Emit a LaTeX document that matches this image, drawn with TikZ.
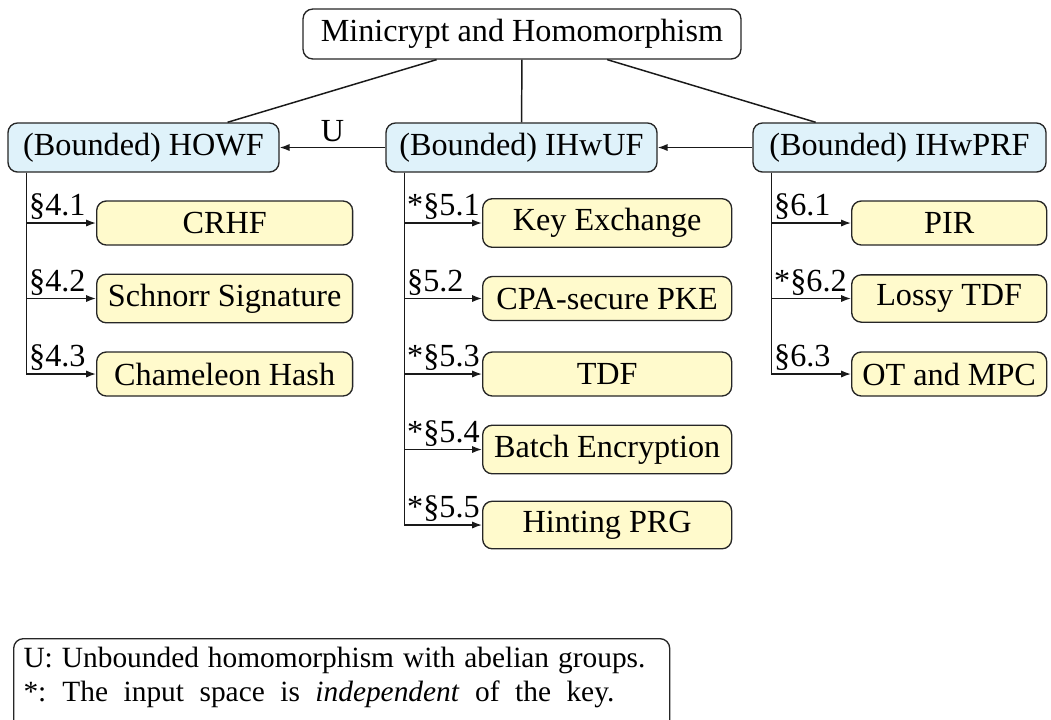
\documentclass[tikz,border=0pt]{standalone}
\usepackage{fontspec}
\setmainfont{Liberation Serif}
\usetikzlibrary{arrows.meta,calc}
\definecolor{boxblue}{RGB}{223,242,250}
\definecolor{boxyellow}{RGB}{255,250,204}
\begin{document}
\begin{tikzpicture}[x=0.3727pt,y=-0.3727pt,
  every node/.style={font=\fontsize{12}{14}\selectfont},
  base/.style={draw=black!85, line width=0.5pt, rounded corners=3.6pt, inner xsep=3pt, inner ysep=3.6pt},
  topbox/.style={base, fill=white, minimum width=163.2pt, minimum height=18.6pt},
  mainbox/.style={base, fill=boxblue, minimum height=18.3pt},
  childbox/.style={base, fill=boxyellow, minimum height=16.4pt, anchor=west},
  link/.style={line width=0.55pt, draw=black!90},
  arr/.style={link, -{Latex[length=3.7pt,width=2.7pt]}},
  sec/.style={anchor=south west, inner xsep=0.8pt, inner ysep=1pt, pos=0.5},
  legtext/.style={anchor=base west, inner sep=0pt, font=\fontsize{10.95}{13}\selectfont},
]
\useasboundingbox (0,0) rectangle (1051,719);
\clip (0,0) rectangle (1051,719);

\node[topbox] (top) at (522,34) {Minicrypt and Homomorphism};
\node[mainbox, minimum width=101pt] (howf) at (143.5,147.5) {(Bounded) HOWF};
\node[mainbox, minimum width=101pt] (ihwuf) at (521.5,147.5) {(Bounded) IHwUF};
\node[mainbox, minimum width=109.2pt] (ihwprf) at (899.5,147.5) {(Bounded) IHwPRF};

\draw[link] (top) -- (howf);
\draw[link] (top) -- (ihwuf);
\draw[link] (top) -- (ihwprf);
\draw[arr] (ihwuf) -- node[above, inner sep=2pt] (ulabel) {U} (howf);
\draw[arr] (ihwprf) -- (ihwuf);

% left column
\node[childbox, minimum width=95.4pt] (crhf) at (96,223) {CRHF};
\node[childbox, minimum width=95.4pt] (schnorr) at (96,298.5) {Schnorr Signature};
\node[childbox, minimum width=95.4pt] (cham) at (96,374) {Chameleon Hash};
\coordinate (lv) at ([xshift=7.08pt]howf.south west);
\draw[arr] (lv) |- node[sec] {§4.1} (crhf.west);
\draw[arr] (lv) |- node[sec] {§4.2} (schnorr.west);
\draw[arr] (lv) |- node[sec] {§4.3} (cham.west);

% middle column
\node[childbox, minimum width=92.8pt] (kex) at (482,223) {Key Exchange};
\node[childbox, minimum width=92.8pt] (pke) at (482,298.5) {CPA-secure PKE};
\node[childbox, minimum width=92.8pt] (tdf) at (482,374) {TDF};
\node[childbox, minimum width=92.8pt] (batch) at (482,449.5) {Batch Encryption};
\node[childbox, minimum width=92.8pt] (hprg) at (482,525) {Hinting PRG};
\coordinate (mv) at ([xshift=7.08pt]ihwuf.south west);
\draw[arr] (mv) |- node[sec] {*§5.1} (kex.west);
\draw[arr] (mv) |- node[sec] {§5.2} (pke.west);
\draw[arr] (mv) |- node[sec] {*§5.3} (tdf.west);
\draw[arr] (mv) |- node[sec] {*§5.4} (batch.west);
\draw[arr] (mv) |- node[sec] {*§5.5} (hprg.west);

% right column
\node[childbox, minimum width=72.7pt] (pir) at (851,223) {PIR};
\node[childbox, minimum width=72.7pt] (ltdf) at (851,298.5) {Lossy TDF};
\node[childbox, minimum width=72.7pt] (otmpc) at (851,374) {OT and MPC};
\coordinate (rv) at ([xshift=7.08pt]ihwprf.south west);
\draw[arr] (rv) |- node[sec] {§6.1} (pir.west);
\draw[arr] (rv) |- node[sec] {*§6.2} (ltdf.west);
\draw[arr] (rv) |- node[sec] {§6.3} (otmpc.west);

% legend
\node[draw=black!85, line width=0.5pt, rounded corners=3.6pt, anchor=north west,
      minimum width=244.5pt, minimum height=37pt, inner sep=0pt] (legend) at (13,638) {};
\node[legtext] (l1) at (23,667)
  {\makebox[231.8pt][s]{U: Unbounded homomorphism with abelian groups.}};
\node[legtext] (l2) at (23,701)
  {*:\hspace{6pt}\makebox[205.7pt][s]{The input space is \textit{independent} of the key.}};
\end{tikzpicture}
\end{document}
